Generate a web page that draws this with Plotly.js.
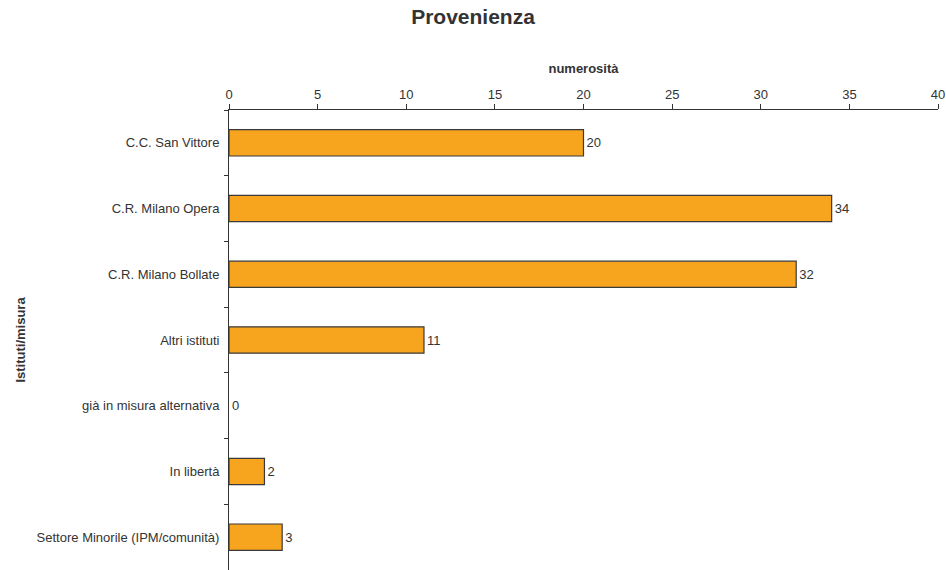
<!DOCTYPE html>
<html>
<head>
<meta charset="utf-8">
<script src="https://cdn.plot.ly/plotly-3.0.1.min.js"></script>
<style>html,body{margin:0;padding:0;background:#fff;}#chart{width:946px;height:570px;}</style>
</head>
<body>
<div id="chart"></div>
<script>
var categories = ["C.C. San Vittore", "C.R. Milano Opera", "C.R. Milano Bollate", "Altri istituti", "già in misura alternativa", "In libertà", "Settore Minorile (IPM/comunità)"];
var values = [20, 34, 32, 11, 0, 2, 3];
var xTicks = [0, 5, 10, 15, 20, 25, 30, 35, 40];

var trace = {
  type: "bar",
  orientation: "h",
  y: categories,
  x: values,
  text: values.map(String),
  textposition: "outside",
  cliponaxis: false,
  textfont: {family: "Liberation Sans, Arial, sans-serif", size: 13, color: "#333"},
  marker: {color: "#F7A51F", line: {color: "#3a3a3a", width: values.map(function(v){return v > 0 ? 1.2 : 0;})}},
  hoverinfo: "none"
};

var layout = {
  width: 946, height: 570,
  margin: {l: 229, r: 8, t: 110, b: 0},
  paper_bgcolor: "#fff", plot_bgcolor: "#fff",
  font: {family: "Liberation Sans, Arial, sans-serif", size: 13, color: "#333"},
  title: {text: "<b>Provenienza</b>", x: 0.5, xanchor: "center", y: 0.97, yanchor: "middle", font: {size: 21, color: "#333"}},
  showlegend: false,
  bargap: 0.6,
  xaxis: {
    side: "top", range: [0, 40], tickvals: xTicks, ticktext: xTicks.map(String),
    showgrid: false, zeroline: false, showline: true, linecolor: "#333", linewidth: 1,
    ticks: "outside", ticklen: 5, tickcolor: "#333",
    tickfont: {size: 13, color: "#333"},
    title: {text: "<b>numerosità</b>", font: {size: 13, color: "#333"}, standoff: 10}
  },
  yaxis: {
    autorange: "reversed", showgrid: false, zeroline: false, showline: true, linecolor: "#333", linewidth: 1,
    ticks: "outside", tickson: "boundaries", ticklen: 4, tickcolor: "#333",
    tickfont: {size: 13, color: "#333"}, ticklabelstandoff: 6,
    title: {text: "<b>Istituti/misura</b>", font: {size: 13, color: "#333"}, standoff: 8}
  }
};

Plotly.newPlot("chart", [trace], layout, {displayModeBar: false, staticPlot: true});
</script>
</body>
</html>
